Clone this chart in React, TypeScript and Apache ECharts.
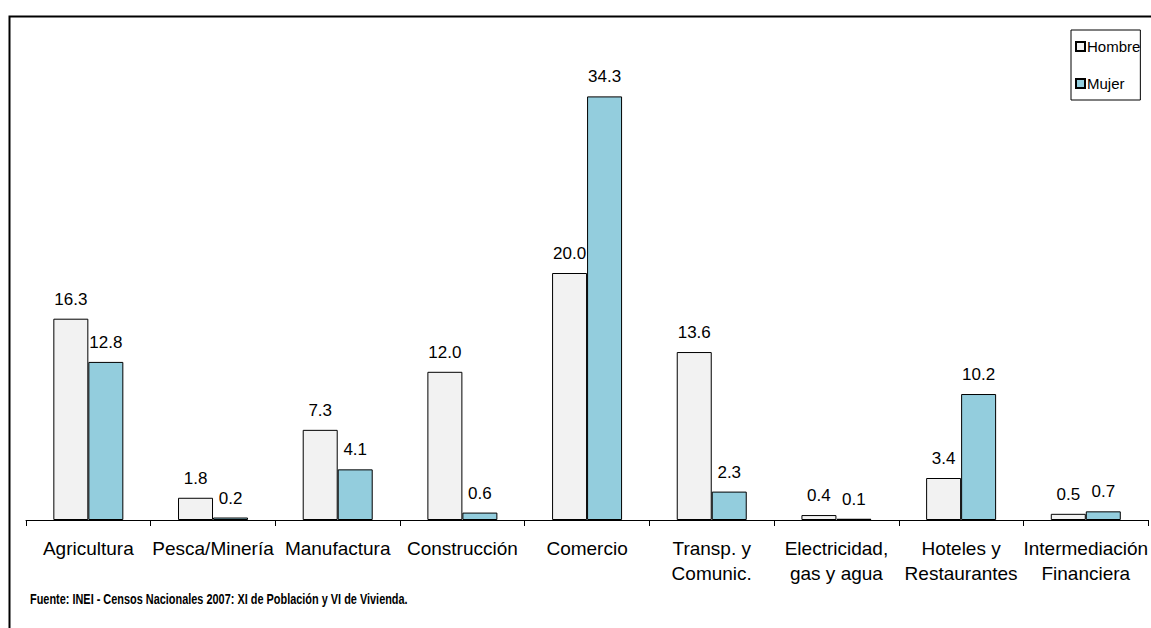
import React, { useEffect, useRef } from "react";
import * as echarts from "echarts";

const categories = [
  "Agricultura",
  "Pesca/Minería",
  "Manufactura",
  "Construcción",
  "Comercio",
  "Transp. y\nComunic.",
  "Electricidad,\ngas y agua",
  "Hoteles y\nRestaurantes",
  "Intermediación\nFinanciera",
];
const hombre = [16.3, 1.8, 7.3, 12.0, 20.0, 13.6, 0.4, 3.4, 0.5];
const mujer = [12.8, 0.2, 4.1, 0.6, 34.3, 2.3, 0.1, 10.2, 0.7];
const sourceText = "Fuente: INEI - Censos Nacionales 2007: XI de Población y VI de Vivienda.";

const FONT = "'Liberation Sans', Arial, sans-serif";

export default function App() {
  const ref = useRef<HTMLDivElement>(null);
  useEffect(() => {
    const chart = echarts.init(ref.current!, null, { renderer: "svg" });
    const label = {
      show: true,
      position: "top",
      distance: 11,
      color: "#000",
      fontSize: 17,
      fontFamily: FONT,
      formatter: (p: any) => Number(p.value).toFixed(1),
    };
    chart.setOption({
      animation: false,
      backgroundColor: "#fff",
      grid: { left: 26, right: 1, top: 26, bottom: 108, containLabel: false },
      legend: {
        orient: "vertical",
        left: 1071,
        top: 30,
        padding: [8, 0, 8, 4],
        borderColor: "#000",
        borderWidth: 1,
        itemWidth: 9,
        itemHeight: 9,
        itemGap: 20,
        textStyle: {
          color: "#000",
          fontSize: 15,
          lineHeight: 17,
          fontFamily: FONT,
          padding: [0, 0, 0, -3],
        },
        data: [
          { name: "Hombre", icon: "rect" },
          { name: "Mujer", icon: "rect" },
        ],
      },
      xAxis: {
        type: "category",
        data: categories,
        axisLine: { lineStyle: { color: "#000", width: 1 } },
        axisTick: { show: true, length: 6, lineStyle: { color: "#000" } },
        axisLabel: {
          interval: 0,
          color: "#000",
          fontSize: 19,
          fontFamily: FONT,
          lineHeight: 25,
          margin: 16,
          hideOverlap: false,
        },
      },
      yAxis: { type: "value", show: false, min: 0, max: 40 },
      series: [
        {
          name: "Hombre",
          type: "bar",
          data: hombre,
          barWidth: 35,
          barGap: "0%",
          itemStyle: { color: "#f2f2f2", borderColor: "#000", borderWidth: 1 },
          label,
        },
        {
          name: "Mujer",
          type: "bar",
          data: mujer,
          barWidth: 35,
          barGap: "0%",
          itemStyle: { color: "#93cddd", borderColor: "#000", borderWidth: 1 },
          label,
        },
      ],
      graphic: [
        {
          type: "rect",
          left: 7,
          top: 14,
          shape: { x: 0, y: 0, width: 1200, height: 700 },
          style: { fill: "none", stroke: "#000", lineWidth: 2 },
          silent: true,
        },
        {
          type: "text",
          x: 30,
          y: 593,
          scaleX: 0.78,
          style: {
            text: sourceText,
            font: "bold 14px 'Liberation Sans', Arial, sans-serif",
            fill: "#000",
          },
        },
      ],
    });
    return () => chart.dispose();
  }, []);
  return (
    <div
      ref={ref}
      style={{ position: "fixed", left: 0, top: 0, width: 1151, height: 628 }}
    />
  );
}
